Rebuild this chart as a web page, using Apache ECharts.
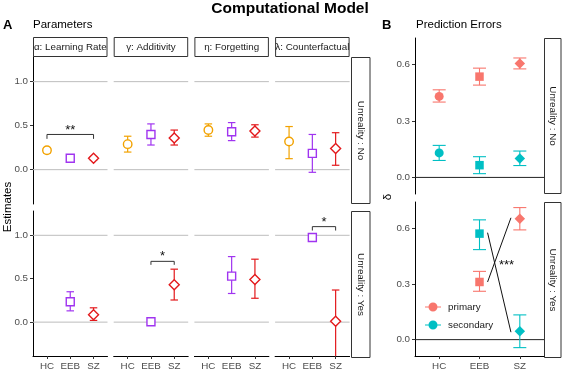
<!DOCTYPE html>
<html>
<head>
<meta charset="utf-8">
<script src="https://cdn.jsdelivr.net/npm/echarts@6/dist/echarts.min.js"></script>
<style>html,body{margin:0;padding:0;background:#fff}#c{width:562px;height:371px}</style>
</head>
<body>
<div id="c"></div>
<script>
// ---------- data ----------
const groups = ['HC', 'EEB', 'SZ'];
const paramNames = ['α: Learning Rate', 'γ: Additivity', 'η: Forgetting', 'λ: Counterfactual'];
const unrealityLevels = ['Unreality : No', 'Unreality : Yes'];
const estTicks = [0, 0.5, 1.0];
const peTicks = [0, 0.3, 0.6];
const estRefLines = [0, 1];
const peRefLines = [0];

// [estimate, lower, upper] per group (HC, EEB, SZ)
const alphaNo  = [[0.22, 0.19, 0.25], [0.13, 0.115, 0.145], [0.13, 0.11, 0.15]];
const gammaNo  = [[0.29, 0.20, 0.38], [0.40, 0.28, 0.52], [0.36, 0.28, 0.45]];
const etaNo    = [[0.45, 0.38, 0.52], [0.43, 0.33, 0.535], [0.44, 0.37, 0.51]];
const lambdaNo = [[0.32, 0.125, 0.49], [0.185, -0.03, 0.40], [0.24, 0.05, 0.42]];
const alphaYes  = [null, [0.235, 0.13, 0.35], [0.085, 0.02, 0.165]];
const gammaYes  = [null, [0.005, 0.0, 0.01], [0.43, 0.255, 0.61]];
const etaYes    = [null, [0.53, 0.33, 0.755], [0.49, 0.275, 0.725]];
const lambdaYes = [null, [0.975, 0.97, 0.98], [0.01, -0.5, 0.37]];

const peNoPrimary    = [[0.43, 0.40, 0.465], [0.535, 0.49, 0.58], [0.605, 0.576, 0.634]];
const peNoSecondary  = [[0.13, 0.09, 0.17], [0.065, 0.02, 0.11], [0.10, 0.063, 0.14]];
const peYesPrimary   = [null, [0.31, 0.26, 0.367], [0.65, 0.59, 0.71]];
const peYesSecondary = [null, [0.57, 0.484, 0.644], [0.045, -0.043, 0.133]];

// significance brackets: [row, col, fromGroup, toGroup, bracketY, tipY, label]
const sigBrackets = [
  [0, 0, 1, 3, 0.40, 0.35, '**'],
  [1, 1, 2, 3, 0.70, 0.66, '*'],
  [1, 3, 2, 3, 1.10, 1.055, '*']
];
// panel B crossing lines (Unreality: Yes)
const crossPrimary = [[2.2, 0.31], [2.78, 0.655]];
const crossSecondary = [[2.2, 0.575], [2.78, 0.04]];
const crossLabel = [[2.67, 0.40, '***']];

// ---------- layout / style ----------
const FONT = '"Liberation Sans", Arial, Helvetica, sans-serif';
const groupColor = ['#F2A200', '#A034F0', '#E3191C'];
const groupSymbol = ['circle', 'rect', 'diamond'];
const openSize = [8.5, 8, 10];
const filledSize = [9, 8.5, 10.5];
const typeColor = {primary: '#F8766D', secondary: '#00BFC4'};

const colLeft = [33, 113.7, 194.4, 275.1];
const colW = 74.5;
const rowTop = [57, 211];
const rowH = 147;
const bLeft = 415, bW = 129;
const bTop = [38, 202];
const bH = 156;
const estMin = -0.39, estMax = 1.28;
const peMin = -0.088, peMax = 0.74;

const grids = [], xAxes = [], yAxes = [], series = [];

function addGrid(left, top, width, height, isLeft, isBottom, ymin, ymax, ticks) {
  const i = grids.length;
  grids.push({left, top, width, height, containLabel: false});
  xAxes.push({
    gridIndex: i, type: 'value', min: 0.4, max: 3.6,
    axisLine: {show: isBottom, onZero: false, lineStyle: {color: '#000', width: 1}},
    axisTick: {show: isBottom, customValues: [1, 2, 3], length: 3, lineStyle: {color: '#333'}},
    axisLabel: {show: isBottom, customValues: [1, 2, 3], formatter: v => groups[Math.round(v) - 1],
      margin: 5, fontSize: 9.8, color: '#4D4D4D', fontFamily: FONT},
    splitLine: {show: false}
  });
  yAxes.push({
    gridIndex: i, type: 'value', min: ymin, max: ymax,
    axisLine: {show: isLeft, onZero: false, lineStyle: {color: '#000', width: 1}},
    axisTick: {show: isLeft, customValues: ticks, length: 3, lineStyle: {color: '#333'}},
    axisLabel: {show: isLeft, customValues: ticks, formatter: v => v.toFixed(1),
      margin: 5, fontSize: 9.8, color: '#4D4D4D', fontFamily: FONT},
    splitLine: {show: false}
  });
  return i;
}

function refLineSeries(gi, values, color, width) {
  series.push({
    type: 'custom', xAxisIndex: gi, yAxisIndex: gi, silent: true, z: 1,
    data: values.map(v => [2, v]),
    renderItem: (params, api) => {
      const cs = params.coordSys;
      const p = api.coord([2, api.value(1)]);
      return {type: 'line', shape: {x1: cs.x, y1: p[1], x2: cs.x + cs.width, y2: p[1]},
        style: {stroke: color, lineWidth: width}};
    }
  });
}

function errSeries(gi, x, rec, color, cap, lw) {
  series.push({
    type: 'custom', xAxisIndex: gi, yAxisIndex: gi, silent: true, z: 3,
    encode: {x: 0, y: 1},
    data: [[x, rec[0], rec[1], rec[2]]],
    renderItem: (params, api) => {
      const cs = params.coordSys;
      const xv = api.value(0);
      const top = api.coord([xv, api.value(3)]);
      const bot = api.coord([xv, api.value(2)]);
      const ymin = cs.y, ymax = cs.y + cs.height;
      const y1 = Math.max(top[1], ymin), y2 = Math.min(bot[1], ymax);
      const px = top[0];
      const st = {stroke: color, lineWidth: lw};
      const ch = [{type: 'line', shape: {x1: px, y1: y1, x2: px, y2: y2}, style: st}];
      if (top[1] >= ymin) ch.push({type: 'line', shape: {x1: px - cap / 2, y1: top[1], x2: px + cap / 2, y2: top[1]}, style: st});
      if (bot[1] <= ymax) ch.push({type: 'line', shape: {x1: px - cap / 2, y1: bot[1], x2: px + cap / 2, y2: bot[1]}, style: st});
      return {type: 'group', children: ch};
    }
  });
}

function panelA(gi, arr) {
  arr.forEach((rec, g) => {
    if (!rec) return;
    errSeries(gi, g + 1, rec, groupColor[g], 7.5, 1.2);
    series.push({
      type: 'scatter', xAxisIndex: gi, yAxisIndex: gi, silent: true, z: 5,
      symbol: groupSymbol[g], symbolSize: openSize[g],
      itemStyle: {color: '#fff', borderColor: groupColor[g], borderWidth: 1.4, opacity: 1},
      data: [[g + 1, rec[0]]]
    });
  });
}

function panelB(gi, arr, name) {
  const c = typeColor[name];
  arr.forEach((rec, g) => {
    if (!rec) return;
    errSeries(gi, g + 1, rec, c, 13, 1.1);
    series.push({
      name: name, type: 'scatter', xAxisIndex: gi, yAxisIndex: gi, silent: true, z: 5,
      symbol: groupSymbol[g], symbolSize: filledSize[g],
      itemStyle: {color: c, opacity: 1},
      data: [[g + 1, rec[0]]]
    });
  });
}

// Panel A grids
const panelAData = [[alphaNo, gammaNo, etaNo, lambdaNo], [alphaYes, gammaYes, etaYes, lambdaYes]];
const gridA = [[], []];
for (let r = 0; r < 2; r++) {
  for (let c = 0; c < 4; c++) {
    const gi = addGrid(colLeft[c], rowTop[r], colW, rowH, c === 0, r === 1, estMin, estMax, estTicks);
    gridA[r][c] = gi;
    refLineSeries(gi, estRefLines, '#BDBDBD', 1);
    panelA(gi, panelAData[r][c]);
  }
}
// brackets
sigBrackets.forEach(b => {
  const gi = gridA[b[0]][b[1]];
  series.push({
    type: 'custom', xAxisIndex: gi, yAxisIndex: gi, silent: true, z: 6,
    data: [[b[2], b[3], b[4], b[5]]],
    renderItem: (params, api) => {
      const a = api.coord([api.value(0), api.value(3)]);
      const bb = api.coord([api.value(0), api.value(2)]);
      const c2 = api.coord([api.value(1), api.value(2)]);
      const d = api.coord([api.value(1), api.value(3)]);
      return {type: 'group', children: [
        {type: 'polyline', shape: {points: [a, bb, c2, d]}, style: {stroke: '#333', lineWidth: 1, fill: null}},
        {type: 'text', x: (bb[0] + c2[0]) / 2, y: bb[1] + 2,
          style: {text: b[6], fontSize: 13, fontFamily: FONT, fill: '#111', align: 'center', verticalAlign: 'bottom'}}
      ]};
    }
  });
});

// Panel B grids
const gB0 = addGrid(bLeft, bTop[0], bW, bH, true, false, peMin, peMax, peTicks);
const gB1 = addGrid(bLeft, bTop[1], bW, bH, true, true, peMin, peMax, peTicks);
refLineSeries(gB0, peRefLines, '#222', 1);
refLineSeries(gB1, peRefLines, '#222', 1);
panelB(gB0, peNoPrimary, 'primary');
panelB(gB0, peNoSecondary, 'secondary');
panelB(gB1, peYesPrimary, 'primary');
panelB(gB1, peYesSecondary, 'secondary');
[crossPrimary, crossSecondary].forEach(line => {
  series.push({type: 'line', xAxisIndex: gB1, yAxisIndex: gB1, silent: true, z: 6,
    data: line, showSymbol: false, symbol: 'none', lineStyle: {color: '#111', width: 1}});
});
series.push({
  type: 'custom', xAxisIndex: gB1, yAxisIndex: gB1, silent: true, z: 6,
  data: crossLabel.map(d => [d[0], d[1]]),
  renderItem: (params, api) => {
    const p = api.coord([api.value(0), api.value(1)]);
    return {type: 'text', x: p[0], y: p[1],
      style: {text: crossLabel[params.dataIndex][2], fontSize: 13, fontFamily: FONT, fill: '#111', align: 'center', verticalAlign: 'middle'}};
  }
});

// ---------- decorations (strips, titles) ----------
const graphic = [];
function txt(x, y, text, size, opts) {
  graphic.push(Object.assign({type: 'text', x, y, silent: true,
    style: Object.assign({text, fontSize: size, fontFamily: FONT, fill: '#000', align: 'left', verticalAlign: 'middle'}, (opts && opts.style) || {})},
    (opts && opts.el) || {}));
}
function strip(x, y, w, h, text, vertical) {
  graphic.push({type: 'rect', silent: true, shape: {x, y, width: w, height: h},
    style: {fill: '#fff', stroke: '#333', lineWidth: 1}});
  graphic.push({type: 'text', silent: true, x: x + w / 2, y: y + h / 2, rotation: vertical ? -Math.PI / 2 : 0,
    style: {text, fontSize: 9.8, fontFamily: FONT, fill: '#1a1a1a', align: 'center', verticalAlign: 'middle'}});
}
for (let c = 0; c < 4; c++) strip(colLeft[c] + 0.5, 37.5, colW - 1, 19, paramNames[c], false);
strip(351.5, rowTop[0] + 0.5, 18.5, rowH - 1, unrealityLevels[0], true);
strip(351.5, rowTop[1] + 0.5, 18.5, rowH - 1, unrealityLevels[1], true);
strip(544.5, bTop[0] + 0.5, 16.5, bH - 1, unrealityLevels[0], true);
strip(544.5, bTop[1] + 0.5, 16.5, bH - 1, unrealityLevels[1], true);

txt(290, 9, 'Computational Model', 15.5, {style: {fontWeight: 'bold', align: 'center'}});
txt(3, 25, 'A', 13, {style: {fontWeight: 'bold'}});
txt(382, 25, 'B', 13, {style: {fontWeight: 'bold'}});
txt(33, 25, 'Parameters', 11.5);
txt(416, 25, 'Prediction Errors', 11.5);
txt(8, 207, 'Estimates', 11.5, {style: {align: 'center'}, el: {rotation: Math.PI / 2}});
txt(388, 197, 'δ', 11.5, {style: {align: 'center'}, el: {rotation: Math.PI / 2}});

const option = {
  animation: false,
  backgroundColor: '#fff',
  textStyle: {fontFamily: FONT},
  grid: grids, xAxis: xAxes, yAxis: yAxes, series,
  legend: {
    data: ['primary', 'secondary'], orient: 'vertical', left: 420, top: 297,
    itemWidth: 16, itemHeight: 9, itemGap: 8, selectedMode: false,
    icon: 'path://M0,4.4 L16,4.4 L16,5.6 L0,5.6 Z M8,0.5 A4.5,4.5 0 1 1 7.99,0.5 Z',
    textStyle: {fontSize: 9.8, color: '#1a1a1a', fontFamily: FONT, padding: [0, 0, 0, 2]}
  },
  graphic
};
echarts.init(document.getElementById('c')).setOption(option);
</script>
</body>
</html>
